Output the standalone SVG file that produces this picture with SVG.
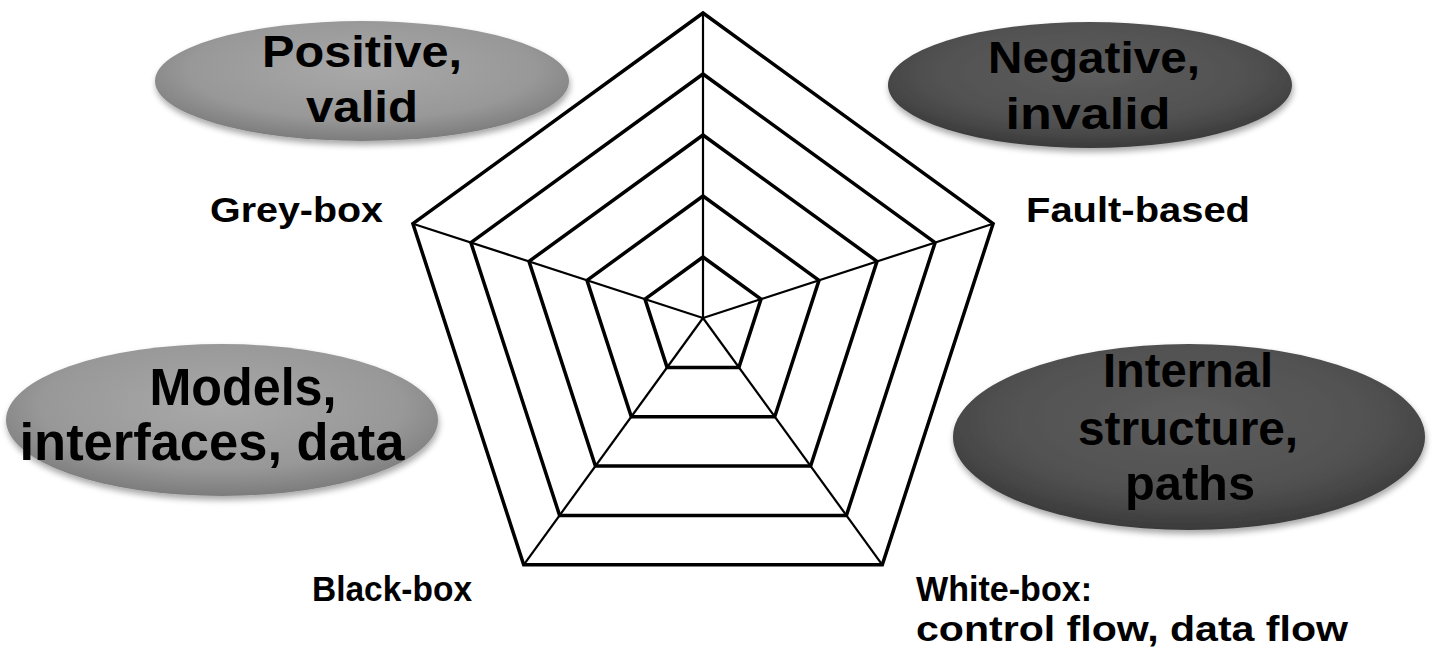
<svg xmlns="http://www.w3.org/2000/svg" width="1443" height="654" viewBox="0 0 1443 654">
<defs>
  <radialGradient id="gLight" cx="50%" cy="40%" r="60%">
    <stop offset="0" stop-color="#a9a9a9"/>
    <stop offset="0.7" stop-color="#989898"/>
    <stop offset="1" stop-color="#7c7c7c"/>
  </radialGradient>
  <radialGradient id="gDark" cx="50%" cy="40%" r="60%">
    <stop offset="0" stop-color="#5e5e5e"/>
    <stop offset="0.7" stop-color="#505050"/>
    <stop offset="1" stop-color="#3a3a3a"/>
  </radialGradient>
  <filter id="shadow" x="-10%" y="-15%" width="120%" height="140%">
    <feGaussianBlur in="SourceAlpha" stdDeviation="3"/>
    <feOffset dx="1" dy="4" result="b"/>
    <feComponentTransfer><feFuncA type="linear" slope="0.35"/></feComponentTransfer>
    <feMerge><feMergeNode/><feMergeNode in="SourceGraphic"/></feMerge>
  </filter>
</defs>
<style>
  .ring { fill: none; stroke: #000; stroke-width: 3.5; stroke-linejoin: miter; }
  .spoke { stroke: #000; stroke-width: 2.2; }
  .big { font-family: "Liberation Sans", Arial, sans-serif; font-weight: bold; fill: #000; text-anchor: middle; }
  .lbl { font-family: "Liberation Sans", Arial, sans-serif; font-weight: bold; font-size: 35px; fill: #000; }
</style>

<g id="radar">
  <g id="spokes">
    <line class="spoke" x1="703" y1="318" x2="703" y2="13"/>
    <line class="spoke" x1="703" y1="318" x2="993.1" y2="223.7"/>
    <line class="spoke" x1="703" y1="318" x2="882.3" y2="564.8"/>
    <line class="spoke" x1="703" y1="318" x2="523.7" y2="564.8"/>
    <line class="spoke" x1="703" y1="318" x2="412.9" y2="223.7"/>
  </g>
  <polygon class="ring" points="703,257 761,299.1 738.9,367.4 667.1,367.4 645,299.1"/>
  <polygon class="ring" points="703,196 819,280.3 774.7,416.7 631.3,416.7 587,280.3"/>
  <polygon class="ring" points="703,135 877,261.4 810.6,466.1 595.4,466.1 529,261.4"/>
  <polygon class="ring" points="703,74 935.1,242.6 846.4,515.4 559.6,515.4 470.9,242.6"/>
  <polygon class="ring" points="703,13 993.1,223.7 882.3,564.8 523.7,564.8 412.9,223.7"/>
</g>

<g id="positive">
  <ellipse cx="362" cy="81" rx="207" ry="60" fill="url(#gLight)" filter="url(#shadow)"/>
  <text class="big" x="362" y="67" font-size="45" textLength="200" lengthAdjust="spacingAndGlyphs">Positive,</text>
  <text class="big" x="362" y="122" font-size="45" textLength="112" lengthAdjust="spacingAndGlyphs">valid</text>
</g>

<g id="negative">
  <ellipse cx="1090" cy="85" rx="202" ry="63" fill="url(#gDark)" filter="url(#shadow)"/>
  <text class="big" x="1094" y="73" font-size="44" textLength="212" lengthAdjust="spacingAndGlyphs">Negative,</text>
  <text class="big" x="1088" y="129" font-size="44" textLength="165" lengthAdjust="spacingAndGlyphs">invalid</text>
</g>

<g id="models">
  <ellipse cx="222" cy="420" rx="216" ry="76" fill="url(#gLight)" filter="url(#shadow)"/>
  <text class="big" x="243" y="405" font-size="51" textLength="187" lengthAdjust="spacingAndGlyphs">Models,</text>
  <text class="big" x="212" y="460" font-size="51" textLength="385" lengthAdjust="spacingAndGlyphs">interfaces, data</text>
</g>

<g id="internal">
  <ellipse cx="1189" cy="437" rx="236" ry="93" fill="url(#gDark)" filter="url(#shadow)"/>
  <text class="big" x="1188" y="387" font-size="48" textLength="170" lengthAdjust="spacingAndGlyphs">Internal</text>
  <text class="big" x="1188" y="445" font-size="48" textLength="220" lengthAdjust="spacingAndGlyphs">structure,</text>
  <text class="big" x="1190" y="500" font-size="48" textLength="130" lengthAdjust="spacingAndGlyphs">paths</text>
</g>

<g id="labels">
  <text class="lbl" x="210" y="222" textLength="173" lengthAdjust="spacingAndGlyphs">Grey-box</text>
  <text class="lbl" x="1026" y="222" textLength="224" lengthAdjust="spacingAndGlyphs">Fault-based</text>
  <text class="lbl" x="312" y="601" textLength="160" lengthAdjust="spacingAndGlyphs">Black-box</text>
  <text class="lbl" x="916" y="601" textLength="176" lengthAdjust="spacingAndGlyphs">White-box:</text>
  <text class="lbl" x="916" y="641" textLength="432" lengthAdjust="spacingAndGlyphs">control flow, data flow</text>
</g>
</svg>
